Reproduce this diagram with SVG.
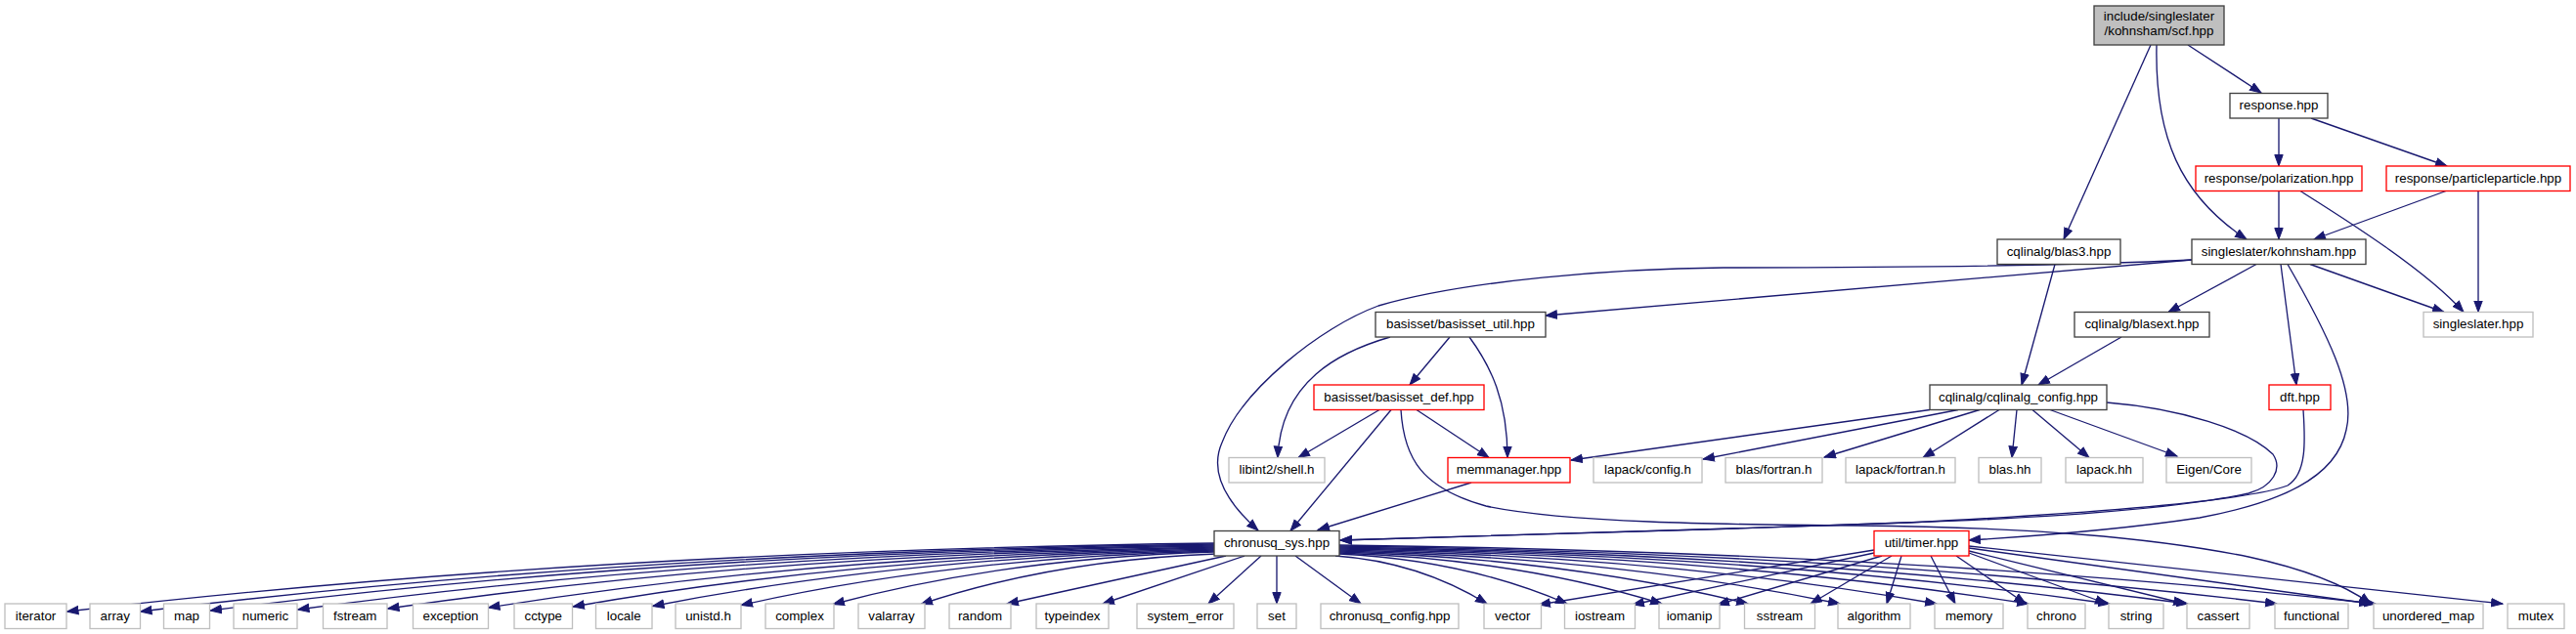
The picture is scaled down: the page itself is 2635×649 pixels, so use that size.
<svg xmlns="http://www.w3.org/2000/svg" width="2635" height="649" viewBox="0 0 2635 649">
<defs>
<style>
text{font-family:"Liberation Sans",Arial,Helvetica,sans-serif;font-size:13.33px;fill:#000;text-anchor:middle}
rect{fill:#fff;stroke-width:1.33}
.b rect{stroke:#404040}
.r rect{stroke:#ff0000}
.g rect{stroke:#bfbfbf}
.t rect{stroke:#404040;fill:#bfbfbf}
#edges path{fill:none;stroke:#191970;stroke-width:1.33;marker-end:url(#arr)}
</style>
<marker id="arr" markerUnits="userSpaceOnUse" markerWidth="14" markerHeight="12" refX="12" refY="5" orient="auto">
<path d="M0.5,0.8 L12,5 L0.5,9.2 Z" fill="#191970" stroke="#191970" stroke-width="1"/>
</marker>
</defs>
<rect x="0" y="0" width="2635" height="649" fill="#fff" stroke="none"/>
<g id="edges">
<path d="M2238,46 L2313,95"/>
<path d="M2200,46 L2111,245"/>
<path d="M2206,46 C2204,140 2230,200 2298,245"/>
<path d="M2331,121 L2331,170"/>
<path d="M2364,121 L2503,170"/>
<path d="M2331,195.5 L2331,245"/>
<path d="M2353,195.5 C2395,222 2480,275 2520,319.5"/>
<path d="M2502,195.5 L2367,245"/>
<path d="M2535,195.5 L2535,319.5"/>
<path d="M2102,270.5 L2068,394"/>
<path d="M2242,266 L1581,323"/>
<path d="M2242,266 C2100,273 1900,274 1763,274 C1650,275 1500,287 1410,313 C1350,335 1270,400 1250,453 C1238,480 1250,510 1287,543"/>
<path d="M2308,270.5 L2218,319.5"/>
<path d="M2333,270.5 L2349,394"/>
<path d="M2363,270.5 L2500,319.5"/>
<path d="M2340,270.5 C2380,340 2410,400 2400,440 C2390,490 2330,515 2250,530 C2150,545 2060,550 2014,553"/>
<path d="M2170,345 L2085,394"/>
<path d="M1422,345 C1370,360 1310,390 1307,468.5"/>
<path d="M1483,345 L1442,394"/>
<path d="M1503,345 C1525,375 1542,410 1542,468.5"/>
<path d="M1411,419.5 L1328,468.5"/>
<path d="M1423,419.5 L1320,543.5"/>
<path d="M1449,419.5 L1523,468.5"/>
<path d="M1433,419.5 C1436,470 1455,500 1520,518 C1600,535 1760,537 1900,538 C2080,540 2200,550 2300,570 C2360,583 2400,600 2425,618"/>
<path d="M1505,494 L1348,542.5"/>
<path d="M1974,419.5 L1607,471"/>
<path d="M2003,419.5 L1742,470"/>
<path d="M2025,419.5 L1866,468"/>
<path d="M2045,419.5 L1967,468.5"/>
<path d="M2063,419.5 L2058,468.5"/>
<path d="M2079,419.5 L2137,468.5"/>
<path d="M2097,419.5 L2227,467"/>
<path d="M2155,412 C2230,418 2300,440 2325,465 C2335,480 2325,498 2300,505 C2230,520 2100,530 1950,535 C1750,542 1500,550 1371,553"/>
<path d="M2356,419.5 C2358,450 2360,485 2340,497 C2300,512 2150,525 1950,535 C1750,542 1500,550 1371,553"/>
<path d="M1242,556 Q596.6,564.4 68.5,626"/>
<path d="M1242,557 Q637.8,565.3 143.5,626"/>
<path d="M1242,558 Q677.1,566 215,625"/>
<path d="M1242,559 Q726.4,566.8 304.5,624"/>
<path d="M1242,560 Q777,567.6 396.5,623"/>
<path d="M1242,561 Q833.6,568.3 499.5,622"/>
<path d="M1242,562 Q881.2,569.1 586,621"/>
<path d="M1242,563 Q926,569.9 667.5,620.5"/>
<path d="M1242,564 Q975.8,570.7 758,619.5"/>
<path d="M1242,565 Q1027.5,571.4 852,618.5"/>
<path d="M1244,567 Q1077.9,573.2 942,618.5"/>
<path d="M1254,569 L1030,618"/>
<path d="M1273,569 L1128,618"/>
<path d="M1290,569 L1236,618"/>
<path d="M1306,569 L1306,618"/>
<path d="M1325,569 L1392,618"/>
<path d="M1366,569 Q1451,575 1521,618"/>
<path d="M1370,567 Q1498,573 1603,618"/>
<path d="M1370,566 Q1551.5,572.2 1700,618"/>
<path d="M1370,565 Q1599.9,571.4 1788,618"/>
<path d="M1370,564 Q1651.6,570.5 1882,618"/>
<path d="M1370,563 Q1706,569.6 1981,618"/>
<path d="M1370,562 Q1757.8,568.7 2075,618"/>
<path d="M1370,561 Q1803.4,567.8 2158,618"/>
<path d="M1370,560 Q1847.4,567 2238,618"/>
<path d="M1370,559 Q1897.5,566.1 2329,618"/>
<path d="M1370,558 Q1953,565.2 2430,618"/>
<path d="M1917,563 L1574,619"/>
<path d="M1917,566 L1670,619"/>
<path d="M1925,569 L1757,619"/>
<path d="M1935,569 L1852,618"/>
<path d="M1945,569 L1930,618"/>
<path d="M1975,569 L2000,618"/>
<path d="M2001,569 L2072,618"/>
<path d="M2014,566 L2155,618"/>
<path d="M2014,564 L2235,618"/>
<path d="M2014,561 L2425,618"/>
<path d="M2014,559 L2560,618"/>
</g>
<g id="scf" class="t"><rect x="2142" y="6" width="133" height="40"/><text x="2208.5" y="21">include/singleslater</text><text x="2208.5" y="36">/kohnsham/scf.hpp</text></g>
<g id="response" class="b"><rect x="2281" y="95.5" width="100" height="25.5"/><text x="2331" y="112">response.hpp</text></g>
<g id="polarization" class="r"><rect x="2246" y="170" width="170" height="25.5"/><text x="2331" y="186.5">response/polarization.hpp</text></g>
<g id="particleparticle" class="r"><rect x="2441" y="170" width="188" height="25.5"/><text x="2535" y="186.5">response/particleparticle.hpp</text></g>
<g id="blas3" class="b"><rect x="2043" y="245" width="126" height="25.5"/><text x="2106" y="261.5">cqlinalg/blas3.hpp</text></g>
<g id="kohnsham" class="b"><rect x="2242" y="245" width="178" height="25.5"/><text x="2331" y="261.5">singleslater/kohnsham.hpp</text></g>
<g id="basisset_util" class="b"><rect x="1407" y="319.5" width="174" height="25.5"/><text x="1494" y="336">basisset/basisset_util.hpp</text></g>
<g id="blasext" class="b"><rect x="2122" y="319.5" width="138" height="25.5"/><text x="2191" y="336">cqlinalg/blasext.hpp</text></g>
<g id="singleslater" class="g"><rect x="2479" y="319.5" width="112" height="25.5"/><text x="2535" y="336">singleslater.hpp</text></g>
<g id="basisset_def" class="r"><rect x="1344" y="394" width="174" height="25.5"/><text x="1431" y="410.5">basisset/basisset_def.hpp</text></g>
<g id="cqlinalg_config" class="b"><rect x="1974" y="394" width="181" height="25.5"/><text x="2064.5" y="410.5">cqlinalg/cqlinalg_config.hpp</text></g>
<g id="dft" class="r"><rect x="2321" y="394" width="63" height="25.5"/><text x="2352.5" y="410.5">dft.hpp</text></g>
<g id="libint2" class="g"><rect x="1257" y="468.5" width="98" height="25.5"/><text x="1306" y="485">libint2/shell.h</text></g>
<g id="memmanager" class="r"><rect x="1481" y="468.5" width="125" height="25.5"/><text x="1543.5" y="485">memmanager.hpp</text></g>
<g id="lapack_config" class="g"><rect x="1630" y="468.5" width="111" height="25.5"/><text x="1685.5" y="485">lapack/config.h</text></g>
<g id="blas_fortran" class="g"><rect x="1765" y="468.5" width="99" height="25.5"/><text x="1814.5" y="485">blas/fortran.h</text></g>
<g id="lapack_fortran" class="g"><rect x="1888" y="468.5" width="112" height="25.5"/><text x="1944" y="485">lapack/fortran.h</text></g>
<g id="blas_hh" class="g"><rect x="2024" y="468.5" width="64" height="25.5"/><text x="2056" y="485">blas.hh</text></g>
<g id="lapack_hh" class="g"><rect x="2113" y="468.5" width="79" height="25.5"/><text x="2152.5" y="485">lapack.hh</text></g>
<g id="eigen_core" class="g"><rect x="2216" y="468.5" width="87" height="25.5"/><text x="2259.5" y="485">Eigen/Core</text></g>
<g id="chronusq_sys" class="b"><rect x="1242" y="543.5" width="128" height="25.5"/><text x="1306" y="560">chronusq_sys.hpp</text></g>
<g id="timer" class="r"><rect x="1917" y="543.5" width="97" height="25.5"/><text x="1965.5" y="560">util/timer.hpp</text></g>
<g id="iterator" class="g"><rect x="5" y="618" width="63" height="25.5"/><text x="36.5" y="634.5">iterator</text></g>
<g id="array" class="g"><rect x="92" y="618" width="51.5" height="25.5"/><text x="117.75" y="634.5">array</text></g>
<g id="map" class="g"><rect x="167.5" y="618" width="47" height="25.5"/><text x="191" y="634.5">map</text></g>
<g id="numeric" class="g"><rect x="239" y="618" width="65" height="25.5"/><text x="271.5" y="634.5">numeric</text></g>
<g id="fstream" class="g"><rect x="330.5" y="618" width="65.5" height="25.5"/><text x="363.25" y="634.5">fstream</text></g>
<g id="exception" class="g"><rect x="422.5" y="618" width="77" height="25.5"/><text x="461" y="634.5">exception</text></g>
<g id="cctype" class="g"><rect x="526" y="618" width="59.5" height="25.5"/><text x="555.75" y="634.5">cctype</text></g>
<g id="locale" class="g"><rect x="609.5" y="618" width="57.5" height="25.5"/><text x="638.25" y="634.5">locale</text></g>
<g id="unistd" class="g"><rect x="691" y="618" width="67" height="25.5"/><text x="724.5" y="634.5">unistd.h</text></g>
<g id="complex" class="g"><rect x="783" y="618" width="70" height="25.5"/><text x="818" y="634.5">complex</text></g>
<g id="valarray" class="g"><rect x="878" y="618" width="68" height="25.5"/><text x="912" y="634.5">valarray</text></g>
<g id="random" class="g"><rect x="971" y="618" width="63" height="25.5"/><text x="1002.5" y="634.5">random</text></g>
<g id="typeindex" class="g"><rect x="1060" y="618" width="74" height="25.5"/><text x="1097" y="634.5">typeindex</text></g>
<g id="system_error" class="g"><rect x="1163" y="618" width="99" height="25.5"/><text x="1212.5" y="634.5">system_error</text></g>
<g id="set" class="g"><rect x="1286" y="618" width="40" height="25.5"/><text x="1306" y="634.5">set</text></g>
<g id="chronusq_config" class="g"><rect x="1351" y="618" width="141" height="25.5"/><text x="1421.5" y="634.5">chronusq_config.hpp</text></g>
<g id="vector" class="g"><rect x="1518" y="618" width="58.5" height="25.5"/><text x="1547.25" y="634.5">vector</text></g>
<g id="iostream" class="g"><rect x="1600.5" y="618" width="72" height="25.5"/><text x="1636.5" y="634.5">iostream</text></g>
<g id="iomanip" class="g"><rect x="1697" y="618" width="62" height="25.5"/><text x="1728" y="634.5">iomanip</text></g>
<g id="sstream" class="g"><rect x="1784.5" y="618" width="72" height="25.5"/><text x="1820.5" y="634.5">sstream</text></g>
<g id="algorithm" class="g"><rect x="1880" y="618" width="74" height="25.5"/><text x="1917" y="634.5">algorithm</text></g>
<g id="memory" class="g"><rect x="1979" y="618" width="70" height="25.5"/><text x="2014" y="634.5">memory</text></g>
<g id="chrono" class="g"><rect x="2074" y="618" width="59" height="25.5"/><text x="2103.5" y="634.5">chrono</text></g>
<g id="string" class="g"><rect x="2157" y="618" width="56" height="25.5"/><text x="2185" y="634.5">string</text></g>
<g id="cassert" class="g"><rect x="2237" y="618" width="64" height="25.5"/><text x="2269" y="634.5">cassert</text></g>
<g id="functional" class="g"><rect x="2327" y="618" width="75" height="25.5"/><text x="2364.5" y="634.5">functional</text></g>
<g id="unordered_map" class="g"><rect x="2428" y="618" width="112" height="25.5"/><text x="2484" y="634.5">unordered_map</text></g>
<g id="mutex" class="g"><rect x="2565" y="618" width="58" height="25.5"/><text x="2594" y="634.5">mutex</text></g>
</svg>
